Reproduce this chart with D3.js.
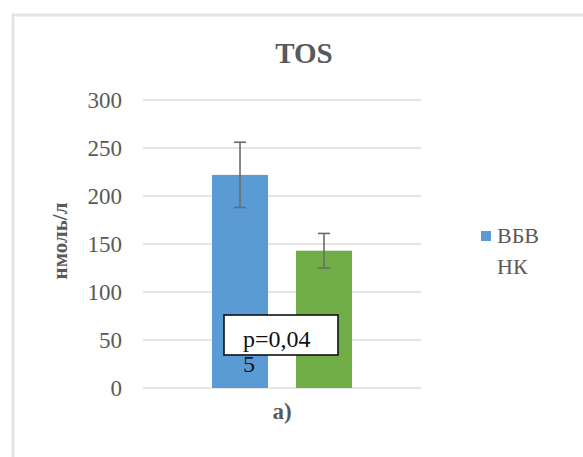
<!DOCTYPE html>
<html>
<head>
<meta charset="utf-8">
<script src="https://cdn.jsdelivr.net/npm/d3@7"></script>
<style>
  html, body { margin: 0; padding: 0; background: #fff; }
  svg { display: block; }
</style>
</head>
<body>
<svg id="chart" width="583" height="457"></svg>
<script>
// Chart data
const title = "TOS";
const categories = ["a)"];
const seriesNames = ["ВБВ", "НК"];
const seriesColors = ["#5B9BD5", "#70AD47"];
const seriesMarker = [true, false];
const means = [222, 143];
const errors = [34, 18];
const yTicks = [0, 50, 100, 150, 200, 250, 300];
const yLabel = "нмоль/л";
const pLabel = ["p=0,04", "5"];

const SERIF = "'Liberation Serif', 'Times New Roman', serif";
const svg = d3.select("#chart");
const W = 583, H = 457;

// outer frame
svg.append("rect")
  .attr("x", 13).attr("y", 15)
  .attr("width", W + 20).attr("height", H + 20)
  .attr("fill", "#fff")
  .attr("stroke", "#e4e4e4").attr("stroke-width", 3);

const plot = { left: 143, right: 421, top: 100, bottom: 388 };

const y = d3.scaleLinear().domain([0, 300]).range([plot.bottom, plot.top]);
const x0 = d3.scaleBand().domain(categories)
  .range([plot.left, plot.right]).paddingInner(0).paddingOuter(0.493);
const x1 = d3.scaleBand().domain(seriesNames)
  .range([0, x0.bandwidth()]).paddingInner(0.333).paddingOuter(0);

// gridlines
svg.append("g").selectAll("line").data(yTicks).join("line")
  .attr("x1", plot.left).attr("x2", plot.right)
  .attr("y1", d => y(d)).attr("y2", d => y(d))
  .attr("stroke", "#dcdcdc").attr("stroke-width", 1.5);

// y axis tick labels
const yAxis = d3.axisLeft(y).tickValues(yTicks).tickSize(0).tickPadding(0);
const gy = svg.append("g").attr("transform", `translate(${plot.left - 21},0)`).call(yAxis);
gy.select(".domain").remove();
gy.attr("font-family", null).attr("font-size", null);
gy.selectAll("text")
  .style("font-family", SERIF)
  .style("font-size", "23px").attr("fill", "#5a5a5a").attr("dy", "0.33em");

// x axis category label
const xAxis = d3.axisBottom(x0).tickSize(0).tickPadding(0);
const gx = svg.append("g").attr("transform", `translate(0,${plot.bottom + 31})`).call(xAxis);
gx.select(".domain").remove();
gx.attr("font-family", null).attr("font-size", null);
gx.selectAll("text")
  .style("font-family", SERIF)
  .style("font-size", "23px").style("font-weight", "bold").attr("fill", "#595959")
  .attr("dy", 0);

// bars
const rows = seriesNames.map((s, i) => ({ name: s, value: means[i], err: errors[i], color: seriesColors[i] }));
const group = svg.append("g").attr("transform", `translate(${x0(categories[0])},0)`);
group.selectAll("rect").data(rows).join("rect")
  .attr("x", d => x1(d.name))
  .attr("y", d => y(d.value))
  .attr("width", x1.bandwidth())
  .attr("height", d => y(0) - y(d.value))
  .attr("fill", d => d.color);

// error bars
const eb = group.selectAll("g.err").data(rows).join("g").attr("class", "err")
  .attr("stroke", "#6b6b6b").attr("stroke-width", 1.6);
eb.append("line")
  .attr("x1", d => x1(d.name) + x1.bandwidth() / 2)
  .attr("x2", d => x1(d.name) + x1.bandwidth() / 2)
  .attr("y1", d => y(d.value + d.err)).attr("y2", d => y(d.value - d.err));
[1, -1].forEach(sign => {
  eb.append("line")
    .attr("x1", d => x1(d.name) + x1.bandwidth() / 2 - 6)
    .attr("x2", d => x1(d.name) + x1.bandwidth() / 2 + 6)
    .attr("y1", d => y(d.value + sign * d.err))
    .attr("y2", d => y(d.value + sign * d.err));
});

// p-value callout
const cx = x0(categories[0]) + x0.bandwidth() / 2;
svg.append("rect")
  .attr("x", cx - 58).attr("y", 315)
  .attr("width", 114).attr("height", 40)
  .attr("fill", "#fff").attr("stroke", "#111").attr("stroke-width", 1.6);
svg.append("text")
  .style("font-family", SERIF).style("font-size", "24px")
  .attr("fill", "#111")
  .selectAll("tspan").data(pLabel).join("tspan")
  .attr("x", cx - 39)
  .attr("y", (d, i) => 347 + i * 25)
  .text(d => d);

// title
svg.append("text")
  .attr("x", 304).attr("y", 63)
  .attr("text-anchor", "middle")
  .style("font-family", SERIF)
  .style("font-size", "29px").style("font-weight", "bold").attr("fill", "#595959")
  .text(title);

// y axis title
svg.append("text")
  .attr("transform", `translate(67,${(plot.top + plot.bottom) / 2 - 3}) rotate(-90)`)
  .attr("text-anchor", "middle")
  .style("font-family", SERIF)
  .style("font-size", "21px").style("font-weight", "bold").attr("fill", "#595959")
  .text(yLabel);

// legend
const lg = svg.append("g").attr("transform", "translate(481,236)");
const items = lg.selectAll("g").data(rows).join("g")
  .attr("transform", (d, i) => `translate(0,${i * 31})`);
items.filter((d, i) => seriesMarker[i]).append("rect")
  .attr("x", 0).attr("y", -5).attr("width", 10).attr("height", 10)
  .attr("fill", d => d.color);
items.append("text")
  .attr("x", 16).attr("y", 0).attr("dy", "0.34em")
  .style("font-family", SERIF)
  .style("font-size", "22px").attr("fill", "#595959")
  .text(d => d.name);
</script>
</body>
</html>
